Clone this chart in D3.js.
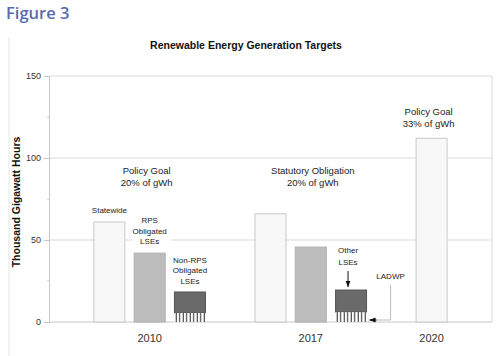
<!DOCTYPE html>
<html><head><meta charset="utf-8">
<script src="https://cdn.jsdelivr.net/npm/d3@7"></script>
<style>body{margin:0;background:#fff}svg{display:block}text{font-family:"Liberation Sans",Arial,sans-serif}</style>
</head><body>
<svg id="c" width="500" height="356"></svg>
<script>
const categories = ["2010", "2017", "2020"];
const statewide = [61, 66, 112];
const rpsObligated = [42, 45.7, null];
const otherLSEs = [18.3, 19.5, null];   // total height of dark bar incl. LADWP part
const ladwp = [5.5, 6, null];
const yTicks = [0, 50, 100, 150];
const yMinor = [25, 75, 125];
const groupNotes = [["Policy Goal", "20% of gWh"], ["Statutory Obligation", "20% of gWh"], ["Policy Goal", "33% of gWh"]];

const svg = d3.select("#c");
const L = 49, R = 492, T = 76, B = 322;
const y = d3.scaleLinear().domain([0, 150]).range([B, T]);
const x = d3.scaleBand().domain(d3.range(11)).range([L, R]).paddingInner(0.23).paddingOuter(0.115);
const slot = (gi, bi) => gi * 4 + bi + 1;

// defs
const defs = svg.append("defs");
const pat = defs.append("pattern").attr("id", "hatch").attr("patternUnits", "userSpaceOnUse")
  .attr("width", 3.5).attr("height", 10);
pat.append("rect").attr("width", 3.5).attr("height", 10).attr("fill", "#fff");
pat.append("line").attr("x1", 1.2).attr("x2", 1.2).attr("y1", 0).attr("y2", 10).attr("stroke", "#222").attr("stroke-width", 1);
defs.append("marker").attr("id", "arr").attr("viewBox", "0 0 10 10").attr("refX", 10).attr("refY", 5)
  .attr("markerWidth", 6).attr("markerHeight", 6).attr("orient", "auto")
  .append("path").attr("d", "M0,1 L10,5 L0,9 z").attr("fill", "#111");

// frame line & figure label
svg.append("line").attr("x1", 9).attr("x2", 9).attr("y1", 37).attr("y2", 356).attr("stroke", "#e6e6e6");
svg.append("text").attr("x", 6).attr("y", 19).text("Figure 3")
  .style("font-family", "'Open Sans',sans-serif").attr("font-size", 16.5).attr("font-weight", 600).attr("fill", "#5a6aae");

svg.append("text").attr("x", 246).attr("y", 49).attr("text-anchor", "middle")
  .attr("font-size", 10.5).attr("font-weight", "bold").attr("fill", "#111").text("Renewable Energy Generation Targets");

// grid
svg.append("g").selectAll("line").data(yTicks.slice(1)).join("line")
  .attr("x1", L).attr("x2", R).attr("y1", d => y(d)).attr("y2", d => y(d))
  .attr("stroke", "#d9d9d9");
svg.append("line").attr("x1", R).attr("x2", R).attr("y1", T).attr("y2", B).attr("stroke", "#d9d9d9");

// y axis
const ax = svg.append("g").attr("transform", `translate(${L},0)`)
  .call(d3.axisLeft(y).tickValues(yTicks).tickSize(5).tickPadding(3));
ax.select(".domain").attr("stroke", "#c8c8c8");
ax.selectAll(".tick line").attr("stroke", "#c8c8c8");
ax.selectAll(".tick text").attr("font-size", 9).attr("fill", "#333").style("font-family", "'Liberation Sans',Arial,sans-serif");
svg.append("g").selectAll("line").data(yMinor).join("line")
  .attr("x1", L - 2).attr("x2", L).attr("y1", d => y(d)).attr("y2", d => y(d)).attr("stroke", "#c8c8c8");
svg.append("line").attr("x1", L).attr("x2", R).attr("y1", B).attr("y2", B).attr("stroke", "#c8c8c8");

svg.append("text").attr("transform", "translate(20,202) rotate(-90)").attr("text-anchor", "middle")
  .attr("font-size", 10.5).attr("font-weight", "bold").attr("fill", "#111").text("Thousand Gigawatt Hours");

// bars
const bw = x.bandwidth();
const g = svg.append("g");
statewide.forEach((v, i) => {
  g.append("rect").attr("x", x(slot(i, 0))).attr("width", bw).attr("y", y(v)).attr("height", B - y(v))
    .attr("fill", "#f8f8f8").attr("stroke", "#c9c9c9");
});
rpsObligated.forEach((v, i) => {
  if (v == null) return;
  g.append("rect").attr("x", x(slot(i, 1))).attr("width", bw).attr("y", y(v)).attr("height", B - y(v))
    .attr("fill", "#bdbdbd").attr("stroke", "#b0b0b0");
});
otherLSEs.forEach((v, i) => {
  if (v == null) return;
  g.append("rect").attr("x", x(slot(i, 2))).attr("width", bw).attr("y", y(v)).attr("height", y(ladwp[i]) - y(v))
    .attr("fill", "#6a6a6a").attr("stroke", "#555");
  g.append("rect").attr("x", x(slot(i, 2))).attr("width", bw).attr("y", y(ladwp[i])).attr("height", B - y(ladwp[i]))
    .attr("fill", "url(#hatch)");
});

// category labels
svg.append("g").selectAll("text").data(categories).join("text")
  .attr("x", (d, i) => i < 2 ? x(slot(i, 1)) + bw / 2 : x(slot(i, 0)) + bw / 2).attr("y", 342)
  .attr("text-anchor", "middle").attr("font-size", 11).attr("fill", "#333").text(d => d);

// annotations
function lines(cx, y0, arr, fs, lh) {
  const t = svg.append("text").attr("text-anchor", "middle").attr("font-size", fs).attr("fill", "#222");
  arr.forEach((s, k) => t.append("tspan").attr("x", cx).attr("y", y0 + k * lh).text(s));
  return t;
}
const notePos = [[x(slot(0, 1)) + bw / 2 - 3, y(90)], [x(slot(1, 1)) + bw / 2 + 2, y(90)], [x(slot(2, 0)) + bw / 2 - 3, y(126)]];
groupNotes.forEach((n, i) => lines(notePos[i][0], notePos[i][1], n, 9.5, 11.5));

lines(x(slot(0, 0)) + bw / 2, y(statewide[0]) - 9, ["Statewide"], 8, 10);
svg.append("rect").attr("x", x(slot(0, 1)) - 2).attr("y", y(statewide[0]) + 2).attr("width", bw + 8)
  .attr("height", y(rpsObligated[0]) - y(statewide[0]) - 4).attr("fill", "#fff");
lines(x(slot(0, 1)) + bw / 2, y(rpsObligated[0]) - 30, ["RPS", "Obligated", "LSEs"], 8, 10.5);
lines(x(slot(0, 2)) + bw / 2, y(otherLSEs[0]) - 29, ["Non-RPS", "Obligated", "LSEs"], 8, 10.5);
lines(x(slot(1, 2)) + bw / 2 - 3, y(otherLSEs[1]) - 37, ["Other", "LSEs"], 8, 12);
svg.append("line").attr("x1", x(slot(1, 2)) + bw / 2 - 3).attr("x2", x(slot(1, 2)) + bw / 2 - 3)
  .attr("y1", y(otherLSEs[1]) - 19).attr("y2", y(otherLSEs[1]) - 3).attr("stroke", "#111").attr("marker-end", "url(#arr)");
const lx = x(slot(1, 2)) + bw + 24;
lines(lx, y(otherLSEs[1]) - 11, ["LADWP"], 8, 10);
svg.append("path").attr("d", `M${lx},${y(otherLSEs[1]) - 5} V${B - 2} H${x(slot(1, 2)) + bw + 2}`)
  .attr("fill", "none").attr("stroke", "#bbb");
svg.append("line").attr("x1", x(slot(1, 2)) + bw + 10).attr("x2", x(slot(1, 2)) + bw + 3)
  .attr("y1", B - 2).attr("y2", B - 2).attr("stroke", "#111").attr("marker-end", "url(#arr)");
</script>
</body></html>
